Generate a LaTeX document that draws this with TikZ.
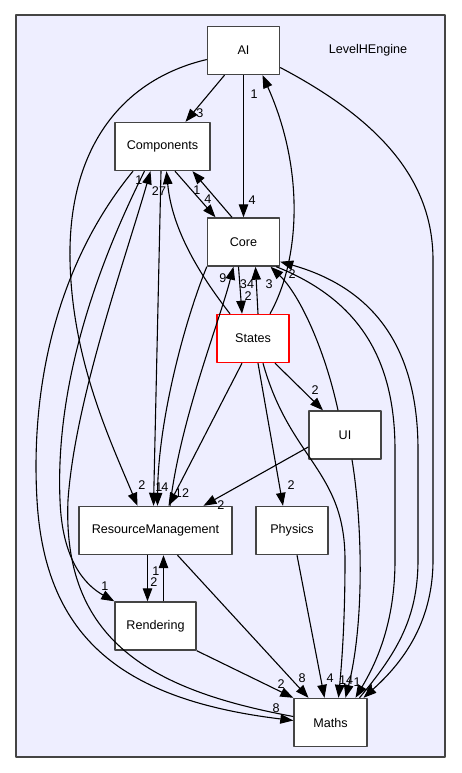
\documentclass[tikz,border=0pt]{standalone}
\usepackage{fontspec}
\setmainfont{Liberation Sans}
\usetikzlibrary{arrows.meta}
\definecolor{clusterfill}{HTML}{EEEEFF}
\definecolor{boxgray}{HTML}{444444}
\begin{document}
\begin{tikzpicture}[x=1pt, y=-1pt, line join=round, >={Triangle[length=13pt,width=9.5pt]},
	font=\fontsize{12.6pt}{15pt}\selectfont,
	dir/.style={draw=boxgray, line width=1.4pt, fill=white, minimum width=72pt, minimum height=48pt, inner sep=0pt},
	dep/.style={->, line width=1.1pt},
	num/.style={inner sep=0pt}]
	\useasboundingbox (0,0) rectangle (461,773);
	\draw[fill=clusterfill, draw=boxgray, line width=1.2pt] (16,15) rectangle (445,757);
	\node[inner sep=0pt] (title) at (368,50) {LevelHEngine};
	% directories
	\node[dir] (ai) at (243.5,50.5) {AI};
	\node[dir, minimum width=95pt] (comp) at (162.5,146.5) {Components};
	\node[dir] (core) at (243.5,242) {Core};
	\node[dir, draw=red] (states) at (253,338.5) {States};
	\node[dir] (ui) at (345,435) {UI};
	\node[dir, minimum width=153pt] (res) at (155.5,530.5) {ResourceManagement};
	\node[dir] (phys) at (292,530.5) {Physics};
	\node[dir, minimum width=81pt] (rend) at (155.5,626) {Rendering};
	\node[dir, minimum width=73pt] (maths) at (330.5,722.5) {Maths};
	% dependencies of AI
	\draw[dep] ([xshift=-19pt]ai.south) -- ([xshift=23pt]comp.north) node[num] (nAC) at (200,113) {3};
	\draw[dep] (ai.south) -- (core.north) node[num] (nACo) at (252,200) {4};
	\draw[dep] ([yshift=-9pt]ai.west) .. controls (120,80) and (68,150) .. (70,260) .. controls (72,360) and (110,440) .. ([xshift=-18pt]res.north) node[num] (nAR) at (142,485) {2};
	\draw[dep] ([yshift=-17pt]ai.east) .. controls (380,120) and (433,180) .. (433,260) -- (433,560) .. controls (433,625) and (400,665) .. ([xshift=33pt]maths.north) node[num] (nAM) at (370,689) {4};
	% dependencies of Components and Core
	\draw[dep] ([xshift=12.5pt]comp.south) -- ([xshift=-28pt]core.north) node[num] (nCCo) at (208,199) {4};
	\draw[dep] ([xshift=-11.5pt]core.north) -- ([xshift=30pt]comp.south) node[num] (nCoC) at (197,190) {1};
	\draw[dep] ([xshift=-1.5pt]comp.south) -- ([xshift=-2pt]res.north) node[num] (nCR) at (159,487) {1};
	\draw[dep] (core.south west) .. controls (185,320) and (158,420) .. ([xshift=2pt]res.north) node[num] (nCoR) at (165,487) {4};
	\draw[dep] ([xshift=14.5pt]res.north) .. controls (180,420) and (220,320) .. ([xshift=-10pt]core.south) node[num] (nRCo) at (223,278) {9};
	\draw[dep] ([xshift=-29.5pt]comp.south) .. controls (60,260) and (30,380) .. (37,500) .. controls (45,640) and (125,700) .. ([yshift=2pt]maths.west) node[num] (nCM) at (276,708) {8};
	\draw[dep] ([yshift=6pt]maths.west) .. controls (150,690) and (62,640) .. (68,500) .. controls (75,400) and (125,260) .. ([xshift=-12pt]comp.south) node[num] (nMC) at (139,180) {1};
	\draw[dep] ([xshift=-18pt]comp.south) .. controls (100,260) and (55,380) .. (60,500) .. controls (62,560) and (85,585) .. (rend.north west) node[num] (nCRe) at (105,586) {1};
	\draw[dep] ([xshift=-5pt]core.south) -- ([xshift=-11pt]states.north) node[num] (nCoS) at (248,296) {2};
	\draw[dep] ([xshift=-4pt]core.south east) .. controls (360,300) and (395,360) .. (395,450) -- (395,560) .. controls (395,625) and (375,665) .. ([xshift=25pt]maths.north) node[num] (nCoM) at (357,682) {1};
	\draw[dep] ([xshift=29pt]maths.north) .. controls (395,655) and (418,620) .. (418,560) -- (418,450) .. controls (418,355) and (380,290) .. ([yshift=5pt]core.south east) node[num] (nMCo) at (292,274) {2};
	% dependencies of States
	\draw[dep] ([xshift=-23pt]states.north) .. controls (200,275) and (172,230) .. ([xshift=4pt]comp.south) node[num] (nSC) at (159,191) {27};
	\draw[dep] ([xshift=5pt]states.north) -- ([xshift=12pt]core.south) node[num] (nSCo) at (247,284) {34};
	\draw[dep] ([xshift=17pt]states.north) .. controls (300,260) and (305,170) .. ([xshift=19pt]ai.south) node[num] (nSA) at (254,94) {1};
	\draw[dep] ([xshift=-11pt]states.south) -- ([xshift=13pt]res.north) node[num] (nSR) at (182,493) {12};
	\draw[dep] ([xshift=22pt]states.south) -- ([xshift=-22pt]ui.north) node[num] (nSU) at (315,390) {2};
	\draw[dep] ([xshift=5pt]states.south) -- ([xshift=-9pt]phys.north) node[num] (nSP) at (291,485) {2};
	\draw[dep] ([xshift=10pt]states.south) .. controls (290,460) and (345,470) .. (345,560) .. controls (345,620) and (342,660) .. ([xshift=8pt]maths.north) node[num] (nSM) at (342.5,680) {1};
	% dependencies of UI
	\draw[dep] ([xshift=-7pt]ui.north) .. controls (325,350) and (300,295) .. ([xshift=27pt]core.south) node[num] (nUCo) at (269,284) {3};
	\draw[dep] ([yshift=-12pt]ui.west) -- ([xshift=48pt]res.north) node[num] (nUR) at (221,505) {2};
	\draw[dep] ([xshift=7pt]ui.south) .. controls (362,520) and (365,620) .. ([xshift=15pt]maths.north) node[num] (nUM) at (349.5,680) {4};
	% lower part
	\draw[dep] ([xshift=-8pt]res.south) -- ([xshift=-8pt]rend.north) node[num] (nRRe) at (154,582) {2};
	\draw[dep] ([xshift=8pt]rend.north) -- ([xshift=8pt]res.south) node[num] (nReR) at (156,571) {1};
	\draw[dep] ([xshift=22pt]res.south) -- ([xshift=-22pt]maths.north) node[num] (nRM) at (302,678) {8};
	\draw[dep] (rend.south east) -- (maths.north west) node[num] (nReM) at (281,684) {2};
	\draw[dep] ([xshift=5pt]phys.south) -- ([xshift=-6pt]maths.north) node[num] (nPM) at (330,678) {4};
\end{tikzpicture}
\end{document}
